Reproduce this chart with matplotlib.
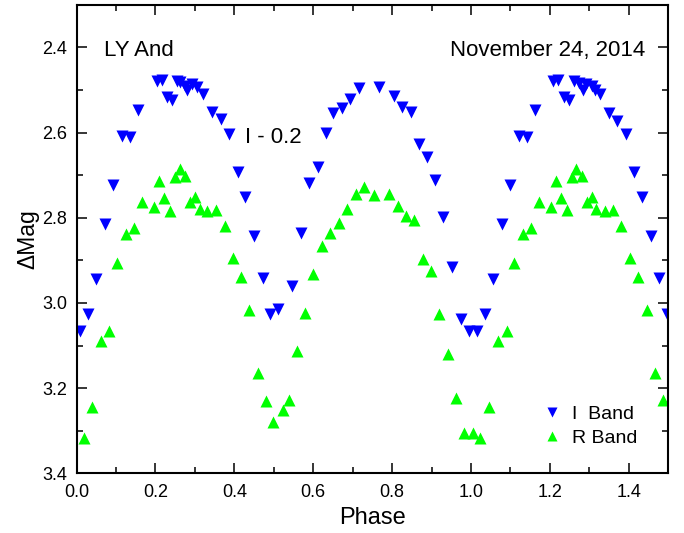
import matplotlib
matplotlib.use('Agg')
import matplotlib.pyplot as plt
from matplotlib.ticker import MultipleLocator, FormatStrFormatter

plt.rcParams['font.family'] = ['Liberation Sans', 'DejaVu Sans']

# I band (already shifted by -0.2)
i_phase = [0.008, 0.030, 0.050, 0.072, 0.093, 0.114, 0.135, 0.156, 0.203, 0.216,
           0.228, 0.243, 0.254, 0.262, 0.275, 0.279, 0.292, 0.305, 0.320, 0.343,
           0.365, 0.387, 0.408, 0.428, 0.450, 0.472, 0.490, 0.510, 0.547, 0.569,
           0.590, 0.611, 0.633, 0.651, 0.673, 0.694, 0.716, 0.766, 0.804, 0.825,
           0.848, 0.867, 0.888, 0.909, 0.930, 0.952, 0.975, 0.994, 1.014, 1.036,
           1.056, 1.079, 1.100, 1.121, 1.142, 1.163, 1.208, 1.220, 1.235, 1.248,
           1.260, 1.273, 1.284, 1.292, 1.307, 1.315, 1.326, 1.349, 1.370, 1.392,
           1.413, 1.434, 1.455, 1.476, 1.497]
i_mag = [3.066, 3.025, 2.943, 2.814, 2.722, 2.607, 2.611, 2.548, 2.478, 2.476,
         2.517, 2.523, 2.478, 2.482, 2.490, 2.500, 2.487, 2.492, 2.509, 2.552,
         2.569, 2.604, 2.693, 2.752, 2.842, 2.941, 3.025, 3.014, 2.961, 2.835,
         2.719, 2.681, 2.601, 2.554, 2.543, 2.521, 2.495, 2.492, 2.515, 2.540,
         2.552, 2.628, 2.658, 2.712, 2.799, 2.916, 3.037, 3.065, 3.066, 3.025,
         2.944, 2.814, 2.722, 2.607, 2.611, 2.548, 2.478, 2.476, 2.517, 2.523,
         2.478, 2.484, 2.500, 2.487, 2.490, 2.500, 2.509, 2.554, 2.572, 2.604,
         2.693, 2.752, 2.842, 2.942, 3.025]

# R band
r_phase = [0.019, 0.040, 0.061, 0.083, 0.103, 0.124, 0.145, 0.167, 0.197, 0.210,
           0.222, 0.237, 0.249, 0.262, 0.275, 0.288, 0.300, 0.313, 0.330, 0.354,
           0.375, 0.396, 0.417, 0.438, 0.459, 0.480, 0.499, 0.522, 0.539, 0.558,
           0.579, 0.600, 0.622, 0.643, 0.664, 0.685, 0.708, 0.728, 0.755, 0.793,
           0.814, 0.835, 0.856, 0.878, 0.898, 0.920, 0.942, 0.963, 0.983, 1.004,
           1.022, 1.046, 1.069, 1.090, 1.110, 1.131, 1.152, 1.173, 1.203, 1.216,
           1.229, 1.242, 1.256, 1.267, 1.282, 1.295, 1.307, 1.318, 1.339, 1.360,
           1.381, 1.403, 1.424, 1.445, 1.466, 1.487]
r_mag = [3.317, 3.245, 3.090, 3.067, 2.907, 2.839, 2.824, 2.763, 2.775, 2.714,
         2.753, 2.783, 2.705, 2.685, 2.701, 2.763, 2.752, 2.779, 2.783, 2.781,
         2.820, 2.894, 2.938, 3.016, 3.165, 3.230, 3.280, 3.252, 3.227, 3.112,
         3.023, 2.933, 2.866, 2.835, 2.812, 2.779, 2.745, 2.728, 2.746, 2.744,
         2.773, 2.797, 2.806, 2.896, 2.924, 3.025, 3.119, 3.223, 3.306, 3.306,
         3.317, 3.245, 3.090, 3.067, 2.907, 2.839, 2.824, 2.763, 2.775, 2.714,
         2.754, 2.782, 2.705, 2.685, 2.701, 2.763, 2.752, 2.779, 2.784, 2.781,
         2.820, 2.894, 2.938, 3.016, 3.165, 3.229]

fig = plt.figure(figsize=(6.84, 5.33), dpi=100)
ax = fig.add_axes([0.112, 0.112, 0.865, 0.879])

ax.plot(i_phase, i_mag, 'v', color='#0000ff', ms=9, mec='none', label='I  Band')
ax.plot(r_phase, r_mag, '^', color='#00ff00', ms=9, mec='none', label='R Band')

ax.set_xlim(0, 1.5)
ax.set_ylim(3.4, 2.3)
ax.xaxis.set_major_locator(MultipleLocator(0.2))
ax.xaxis.set_minor_locator(MultipleLocator(0.1))
ax.yaxis.set_major_locator(MultipleLocator(0.2))
ax.yaxis.set_minor_locator(MultipleLocator(0.1))
ax.xaxis.set_major_formatter(FormatStrFormatter('%.1f'))
ax.yaxis.set_major_formatter(FormatStrFormatter('%.1f'))

ax.tick_params(which='both', direction='in', top=True, right=True, width=1.1)
ax.tick_params(which='major', length=7, labelsize=13)
ax.tick_params(axis='x', which='major', pad=8)
ax.tick_params(axis='y', which='major', pad=7)
ax.tick_params(which='minor', length=4)
for s in ax.spines.values():
    s.set_linewidth(1.5)

ax.set_xlabel('Phase', fontsize=17, labelpad=4)
ax.set_ylabel('ΔMag', fontsize=16.5, labelpad=2)

ax.text(0.046, 0.903, 'LY And', transform=ax.transAxes, fontsize=16, va='center', ha='left')
ax.text(0.961, 0.903, 'November 24, 2014', transform=ax.transAxes, fontsize=16, va='center', ha='right')
ax.text(0.285, 0.716, 'I - 0.2', transform=ax.transAxes, fontsize=16, va='center', ha='left')

leg = ax.legend(loc='center left', bbox_to_anchor=(0.758, 0.101), frameon=False,
                fontsize=14, handlelength=1.0, handletextpad=0.5, labelspacing=0.3,
                markerscale=0.85)

fig.savefig('out.png', dpi=100)
